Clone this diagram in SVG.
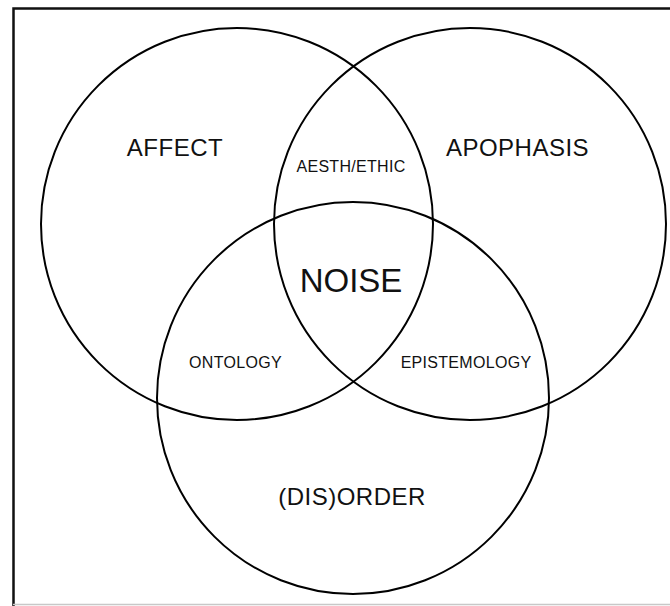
<svg xmlns="http://www.w3.org/2000/svg" width="670" height="606" viewBox="0 0 670 606">
  <style>
    .c { fill: none; stroke: #000; stroke-width: 2; }
    text { font-family: "Liberation Sans", Arial, sans-serif; fill: #111; text-anchor: middle; }
    .big { font-size: 24px; letter-spacing: 0.5px; }
    .small { font-size: 16px; letter-spacing: 0.3px; }
    .noise { font-size: 33px; }
  </style>
  <rect width="670" height="606" fill="#fff"/>
  <g id="frame">
    <path d="M13.5 606 V8.5 H670" fill="none" stroke="#111" stroke-width="2.5"/>
    <line x1="13" y1="604.5" x2="670" y2="604.5" stroke="#c8c8c8" stroke-width="1.5"/>
  </g>
  <g id="affect">
    <circle class="c" cx="237" cy="224" r="196"/>
    <text class="big" x="175" y="156">AFFECT</text>
  </g>
  <g id="apophasis">
    <circle class="c" cx="470" cy="224" r="196"/>
    <text class="big" x="517.5" y="156">APOPHASIS</text>
  </g>
  <g id="disorder">
    <circle class="c" cx="353" cy="398" r="196"/>
    <text class="big" x="352" y="505">(DIS)ORDER</text>
  </g>
  <g id="aesthethic">
    <text class="small" x="351" y="172">AESTH/ETHIC</text>
  </g>
  <g id="ontology">
    <text class="small" x="235.5" y="368">ONTOLOGY</text>
  </g>
  <g id="epistemology">
    <text class="small" x="466" y="368">EPISTEMOLOGY</text>
  </g>
  <g id="noise">
    <text class="noise" x="351" y="292">NOISE</text>
  </g>
  <g id="connectors"></g>
</svg>
